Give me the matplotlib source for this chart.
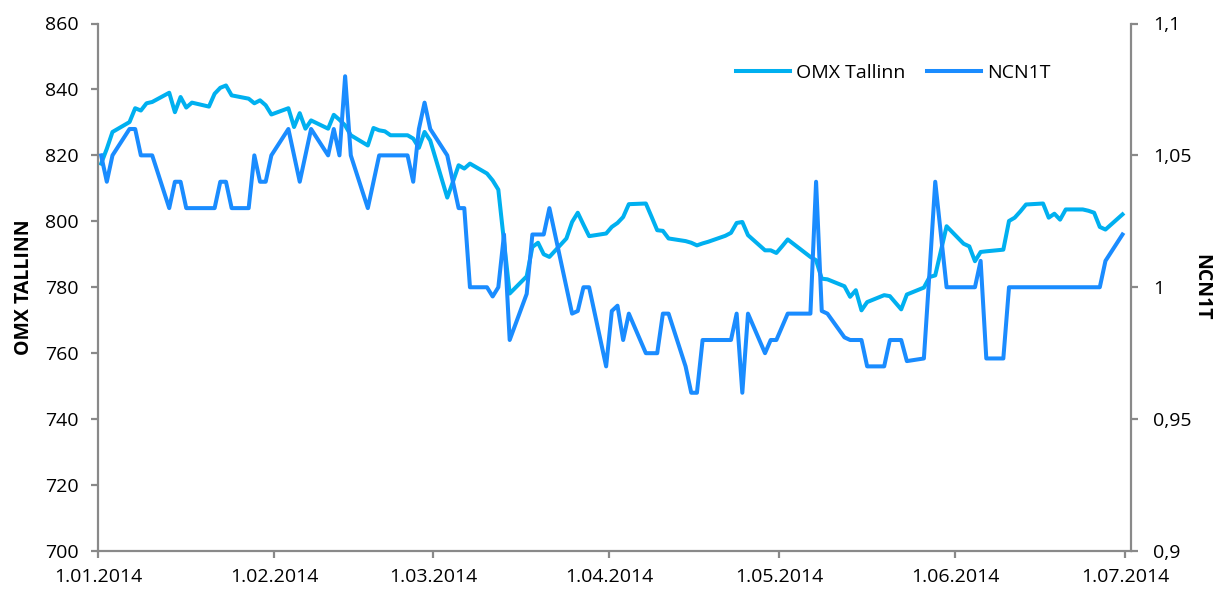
import matplotlib
matplotlib.use("Agg")
import matplotlib.pyplot as plt
import matplotlib.dates as mdates
from matplotlib.ticker import FuncFormatter
import pandas as pd

plt.rcParams['font.family'] = ['Open Sans', 'DejaVu Sans']

# trading days (weekdays) 1 Jan - 30 Jun 2014
dates = pd.bdate_range("2014-01-01", "2014-06-30")

omx_jan = [817.5, 822.0, 827.1, 830.1, 834.3, 833.6, 835.8, 836.2, 839.0, 833.1, 837.7, 834.5,
           836.0, 834.8, 838.7, 840.5, 841.2, 838.2, 837.2, 835.8, 836.7, 835.2, 832.4]
omx_feb = [834.3, 828.6, 832.8, 828.1, 830.6, 828.1, 832.3, 830.8, 829.1, 826.1, 823.0, 828.3,
           827.6, 827.3, 826.1, 826.1, 825.1, 822.3, 827.1, 824.5]
omx_mar = [807.2, 812.0, 817.0, 816.0, 817.5, 814.5, 812.4, 809.6, 794.0, 778.1, 783.3, 792.2,
           793.5, 790.0, 789.2, 794.8, 799.8, 802.6, 799.0, 795.5, 796.3]
omx_apr = [798.3, 799.5, 801.3, 805.2, 805.4, 801.4, 797.3, 797.1, 794.8, 794.0, 793.5, 792.7,
           793.3, 793.8, 795.6, 796.5, 799.5, 799.8, 795.8, 791.2, 791.2, 790.4]
omx_may = [792.4, 794.5, 790.5, 789.2, 788.2, 782.6, 782.4, 780.3, 777.1, 779.1, 773.0, 775.5,
           777.6, 777.3, 775.3, 773.3, 777.8, 779.9, 783.1, 783.6, 791.0, 798.5]
omx_jun = [793.2, 792.4, 787.9, 790.7, 790.9, 791.4, 800.1, 801.1, 803.0, 805.1, 805.4, 801.1,
           802.3, 800.5, 803.6, 803.6, 803.2, 802.6, 798.3, 797.5, 802.1]

ncn_jan = [1.05, 1.04, 1.05, 1.06, 1.06, 1.05, 1.05, 1.05, 1.03, 1.04, 1.04, 1.03,
           1.03, 1.03, 1.03, 1.04, 1.04, 1.03, 1.03, 1.05, 1.04, 1.04, 1.05]
ncn_feb = [1.06, 1.05, 1.04, 1.05, 1.06, 1.05, 1.06, 1.05, 1.08, 1.05, 1.03, 1.04,
           1.05, 1.05, 1.05, 1.05, 1.04, 1.06, 1.07, 1.06]
ncn_mar = [1.05, 1.04, 1.03, 1.03, 1.0, 1.0, 0.9965, 1.0, 1.02, 0.98, 0.9975, 1.02,
           1.02, 1.02, 1.03, 1.0, 0.99, 0.991, 1.0, 1.0, 0.97]
ncn_apr = [0.991, 0.993, 0.98, 0.99, 0.975, 0.975, 0.975, 0.99, 0.99, 0.97, 0.96, 0.96,
           0.98, 0.98, 0.98, 0.98, 0.99, 0.96, 0.99, 0.975, 0.98, 0.98]
ncn_may = [0.985, 0.99, 0.99, 0.99, 1.04, 0.991, 0.99, 0.981, 0.98, 0.98, 0.98, 0.97,
           0.97, 0.98, 0.98, 0.98, 0.972, 0.973, 1.006, 1.04, 1.02, 1.0]
ncn_jun = [1.0, 1.0, 1.0, 1.01, 0.973, 0.973, 1.0, 1.0, 1.0, 1.0, 1.0, 1.0,
           1.0, 1.0, 1.0, 1.0, 1.0, 1.0, 1.0, 1.01, 1.02]

omx = omx_jan + omx_feb + omx_mar + omx_apr + omx_may + omx_jun
ncn = ncn_jan + ncn_feb + ncn_mar + ncn_apr + ncn_may + ncn_jun

month_ticks = pd.date_range("2014-01-01", "2014-07-01", freq="MS")

omx_color = '#00b0f0'
ncn_color = '#1a8cff'
axis_gray = '#898989'

fig = plt.figure(figsize=(12.15, 5.9), dpi=100)
ax = fig.add_axes([98.3 / 1215, 1 - 551 / 590, (1131 - 98.3) / 1215, (551 - 23.5) / 590])
ax2 = ax.twinx()

# excel date axis: points sit in the middle of each day
x = dates + pd.Timedelta(hours=12)
l1, = ax.plot(x, omx, color=omx_color, lw=2.9, solid_joinstyle='round', label='OMX Tallinn')
l2, = ax2.plot(x, ncn, color=ncn_color, lw=2.9, solid_joinstyle='round', label='NCN1T')

ax.set_ylim(700, 860)
ax.set_yticks(range(700, 861, 20))
ax2.set_ylim(0.9, 1.1)
ax2.set_yticks([0.9, 0.95, 1.0, 1.05, 1.1])
ax2.yaxis.set_major_formatter(FuncFormatter(lambda v, p: f"{v:g}".replace('.', ',')))

ax.set_xlim(pd.Timestamp("2014-01-01"), pd.Timestamp("2014-07-02"))
ax.set_xticks(month_ticks)
ax.set_xticklabels([f"{d.day}.{d.month:02d}.{d.year}" for d in month_ticks])

for a in (ax, ax2):
    a.spines['top'].set_visible(False)
    for s in ('left', 'right', 'bottom'):
        a.spines[s].set_color(axis_gray)
        a.spines[s].set_linewidth(1.6)
    a.tick_params(colors=axis_gray, labelcolor='black', labelsize=14, width=1.6, length=5)
ax.spines['right'].set_visible(False)
ax2.spines['left'].set_visible(False)
ax2.spines['bottom'].set_visible(False)
ax.tick_params(axis='y', pad=9)
ax.tick_params(axis='x', pad=7)
ax2.tick_params(axis='y', pad=11)

ax.set_ylabel('OMX TALLINN', fontsize=14, fontweight='bold', labelpad=8)
ax2.set_ylabel('NCN1T', fontsize=14, fontweight='bold', rotation=-90, labelpad=14)

fig.legend(handles=[l1, l2], loc='center left', bbox_to_anchor=(736 / 1215, 1 - 73 / 590),
           ncol=2, frameon=False, fontsize=14, handlelength=2.8, handletextpad=0.3,
           columnspacing=1.1, borderpad=0, borderaxespad=0)

fig.savefig('out.png', dpi=100)
